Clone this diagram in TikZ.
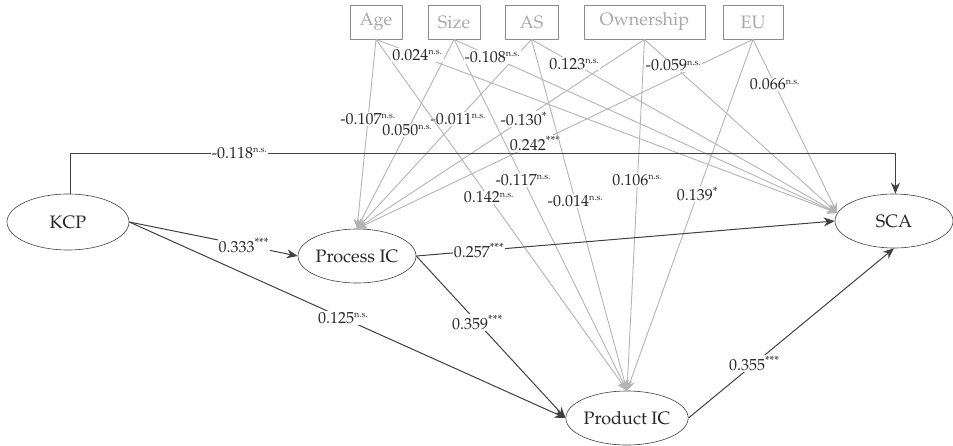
\documentclass[tikz,border=0pt]{standalone}
\usepackage[T1]{fontenc}
\usepackage{mathpazo}
\usetikzlibrary{arrows.meta,shapes.geometric}

\definecolor{darkline}{RGB}{64,64,64}
\definecolor{ctrlline}{RGB}{180,180,180}
\definecolor{ctrlbox}{RGB}{140,140,140}
\definecolor{ctrltext}{RGB}{168,168,168}
\definecolor{coeftext}{RGB}{40,40,40}

% superscript markers for significance
\newcommand{\nsmark}{\textsuperscript{\fontsize{9}{9}\selectfont n.s.}}
\newcommand{\sigmark}[1]{\textsuperscript{\fontsize{12}{12}\selectfont #1}}

\begin{document}
\begin{tikzpicture}[x=1pt,y=-1pt,
  latent/.style={ellipse, draw=darkline, line width=0.6pt, inner sep=0pt,
    font=\fontsize{18}{20}\selectfont, text=black!85},
  ctrl/.style={rectangle, draw=ctrlbox, line width=0.9pt, text=ctrltext,
    minimum height=34pt, inner sep=0pt, font=\fontsize{18}{20}\selectfont},
  mainpath/.style={draw=darkline, line width=1pt,
    -{Stealth[length=11pt,width=9pt]}},
  ctrlpath/.style={draw=ctrlline, line width=0.9pt,
    -{Stealth[length=10pt,width=9pt]}},
  coef/.style={fill=white, inner sep=1pt, text=coeftext,
    font=\fontsize{16}{18}\selectfont}
]
\useasboundingbox (0,0) rectangle (953,445);

% latent constructs
\node[latent, minimum width=122pt, minimum height=56pt] (kcp)  at (68,222)  {KCP};
\node[latent, minimum width=118pt, minimum height=54pt] (proc) at (357,256) {Process IC};
\node[latent, minimum width=120pt, minimum height=54pt] (prod) at (627,418) {Product IC};
\node[latent, minimum width=118pt, minimum height=54pt] (sca)  at (894,221) {SCA};

% control variables
\node[ctrl, minimum width=52pt]  (age)  at (376,22)   {Age};
\node[ctrl, minimum width=52pt]  (size) at (454,22)   {Size};
\node[ctrl, minimum width=53pt]  (as)   at (531.5,22) {AS};
\node[ctrl, minimum width=121pt] (own)  at (644.5,22) {Ownership};
\node[ctrl, minimum width=60pt]  (eu)   at (753,22)   {EU};

% control paths to Process IC
\draw[ctrlpath] (age.south)  -- (proc.north) node[coef,pos=0.42] {-0.107\nsmark};
\draw[ctrlpath] (size.south) -- (proc.north) node[coef,pos=0.48] {0.050\nsmark};
\draw[ctrlpath] (as.south)   -- (proc.north) node[coef,pos=0.42] {-0.011\nsmark};
\draw[ctrlpath] (own.south)  -- (proc.north) node[coef,pos=0.42] {-0.130\sigmark{*}};
\draw[ctrlpath] (eu.south)   -- (proc.north) node[coef,pos=0.55] {0.242\sigmark{***}};

% control paths to Product IC
\draw[ctrlpath] (age.south)  -- (prod.north) node[coef,pos=0.45] {0.142\nsmark};
\draw[ctrlpath] (size.south) -- (prod.north) node[coef,pos=0.40] {-0.117\nsmark};
\draw[ctrlpath] (as.south)   -- (prod.north) node[coef,pos=0.46] {-0.014\nsmark};
\draw[ctrlpath] (own.south)  -- (prod.north) node[coef,pos=0.40] {0.106\nsmark};
\draw[ctrlpath] (eu.south)   -- (prod.north) node[coef,pos=0.44] {0.139\sigmark{*}};

% control paths to SCA
\draw[ctrlpath] (age.south)  -- (sca.172) node[coef,pos=0.09] {0.024\nsmark};
\draw[ctrlpath] (size.south) -- (sca.172) node[coef,pos=0.10] {-0.108\nsmark};
\draw[ctrlpath] (as.south)   -- (sca.172) node[coef,pos=0.14] {0.123\nsmark};
\draw[ctrlpath] (own.south)  -- (sca.172) node[coef,pos=0.15] {-0.059\nsmark};
\draw[ctrlpath] (eu.south)   -- (sca.172) node[coef,pos=0.26] {0.066\nsmark};

% structural paths
\coordinate (topline) at (0,153);
\draw[mainpath] (kcp.85) -- (kcp.85 |- topline)
  -- node[coef,pos=0.205] {-0.118\nsmark} (sca.87 |- topline) -- (sca.87);
\draw[mainpath] (kcp.east) -- (proc.west) node[coef,pos=0.68] {0.333\sigmark{***}};
\draw[mainpath] (kcp.east) -- (prod.west) node[coef,pos=0.49] {0.125\nsmark};
\draw[mainpath] (proc.east) -- (sca.west) node[coef,pos=0.15] {0.257\sigmark{***}};
\draw[mainpath] (proc.east) -- (prod.west) node[coef,pos=0.41] {0.359\sigmark{***}};
\draw[mainpath] (prod.east) -- (sca.south) node[coef,pos=0.32] {0.355\sigmark{***}};
\end{tikzpicture}
\end{document}
